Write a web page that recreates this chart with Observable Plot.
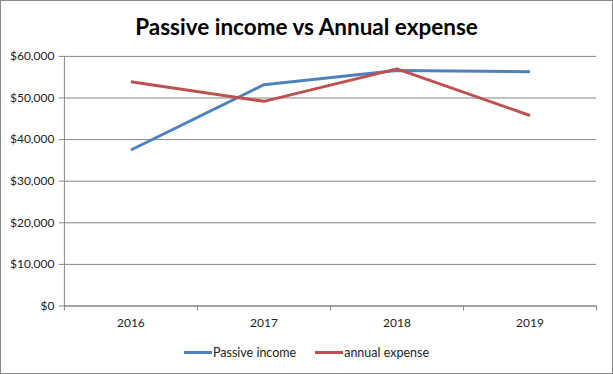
<!DOCTYPE html>
<html>
<head>
<meta charset="utf-8">
<script src="https://cdn.jsdelivr.net/npm/d3@7"></script>
<script src="https://cdn.jsdelivr.net/npm/@observablehq/plot@0.6"></script>
<style>
  html, body { margin: 0; padding: 0; background: #fff; }
  #wrap { position: relative; width: 611px; height: 372px; border: 1px solid #888; background: #fff; overflow: hidden; font-family: Lato, "Open Sans", sans-serif; }
  #title { position: absolute; left: 0; right: 0; top: 12px; text-align: center; font-size: 22.5px; font-weight: bold; color: #000; }
  #chart { position: absolute; left: -1px; top: -1px; }
  #legend { position: absolute; left: 0; right: 0; top: 344px; display: flex; justify-content: center; gap: 19px; font-size: 12.5px; color: #222; }
  .item { display: flex; align-items: center; }
  .sw { width: 28px; height: 3px; margin-right: 1px; }
</style>
</head>
<body>
<div id="wrap">
  <div id="title">Passive income vs Annual expense</div>
  <div id="chart"></div>
  <div id="legend"></div>
</div>
<script>
const years = [2016, 2017, 2018, 2019];
const passiveIncome = [37500, 53200, 56600, 56300];
const annualExpense = [53900, 49200, 57000, 45800];
const seriesNames = ["Passive income", "annual expense"];
const seriesColors = ["#4F81BD", "#C0504D"];
const yTicks = [0, 10000, 20000, 30000, 40000, 50000, 60000];
const boundaries = [2015.5, 2016.5, 2017.5, 2018.5, 2019.5];

const data = [];
years.forEach((y, i) => {
  data.push({year: y, value: passiveIncome[i], series: seriesNames[0]});
  data.push({year: y, value: annualExpense[i], series: seriesNames[1]});
});

const fmt = d => "$" + d3.format(",")(d);

const plot = Plot.plot({
  width: 613,
  height: 374,
  marginTop: 56,
  marginBottom: 68,
  marginLeft: 64,
  marginRight: 16,
  style: {fontFamily: "Lato, 'Open Sans', sans-serif", fontSize: "12px", color: "#222", background: "transparent"},
  x: {domain: [2015.5, 2019.5]},
  y: {domain: [0, 60000]},
  color: {domain: seriesNames, range: seriesColors},
  marks: [
    Plot.gridY(yTicks, {stroke: "#868686", strokeOpacity: 1, strokeWidth: 1}),
    Plot.ruleX([2015.5], {stroke: "#868686"}),
    Plot.ruleY([0], {stroke: "#868686"}),
    Plot.axisY({ticks: yTicks, tickFormat: fmt, tickSize: 5, tickPadding: 5, stroke: "#868686", label: null, fill: "#222"}),
    Plot.axisX({ticks: boundaries, tickFormat: () => "", tickSize: 5, stroke: "#868686", label: null}),
    Plot.axisX({ticks: years, tickFormat: d => String(d), tickSize: 0, tickPadding: 13, label: null, fill: "#222"}),
    Plot.line(data, {x: "year", y: "value", z: "series", stroke: "series", strokeWidth: 3, strokeLinejoin: "round", strokeLinecap: "butt"})
  ]
});
document.getElementById("chart").appendChild(plot);

const legend = document.getElementById("legend");
seriesNames.forEach((n, i) => {
  const it = document.createElement("div");
  it.className = "item";
  const sw = document.createElement("div");
  sw.className = "sw";
  sw.style.background = seriesColors[i];
  const t = document.createElement("span");
  t.textContent = n;
  it.appendChild(sw); it.appendChild(t);
  legend.appendChild(it);
});
</script>
</body>
</html>
